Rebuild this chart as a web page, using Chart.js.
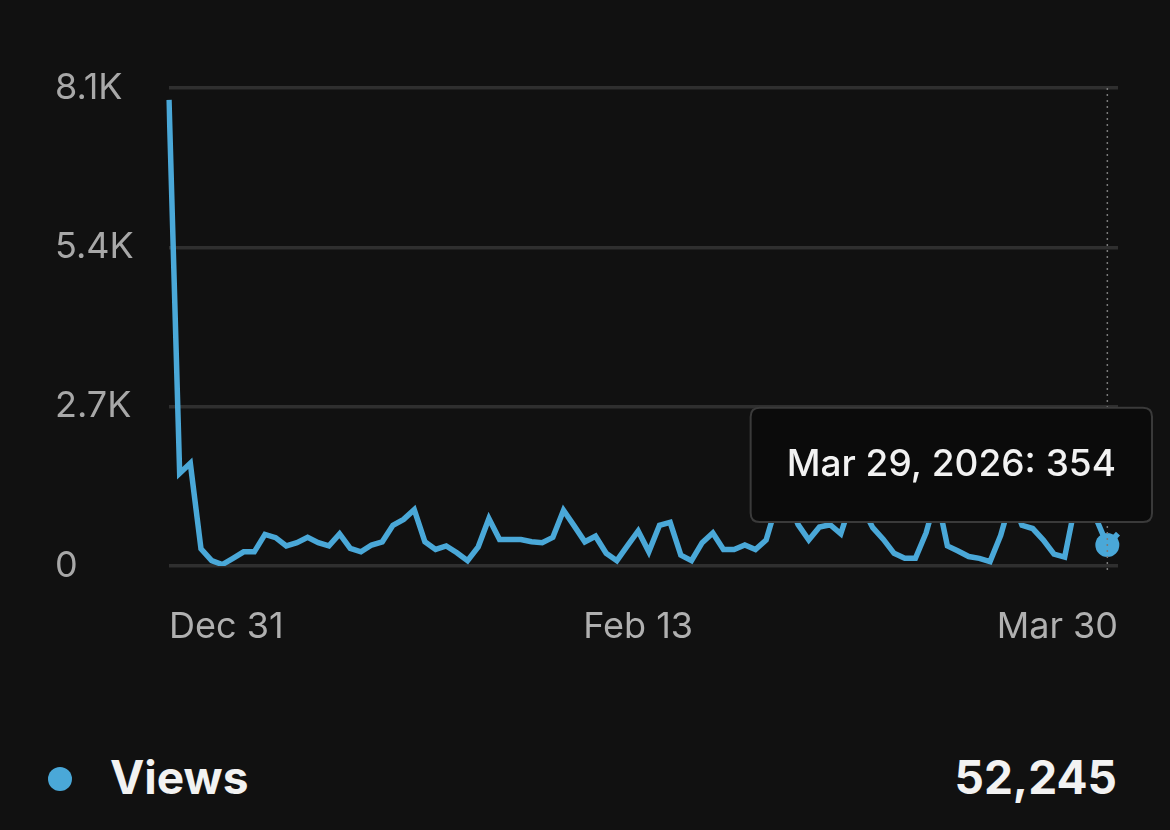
<!DOCTYPE html>
<html>
<head>
<meta charset="utf-8">
<script src="https://cdn.jsdelivr.net/npm/chart.js@4.4.1/dist/chart.umd.min.js"></script>
<style>
  html, body { margin: 0; padding: 0; background: #111111; }
  body { width: 1170px; height: 830px; position: relative; overflow: hidden; font-family: Inter, "Noto Sans", sans-serif; }
  #wrap { position: absolute; left: 0; top: 0; width: 1170px; height: 680px; }
  .legend-dot { position: absolute; left: 48px; top: 767px; width: 24px; height: 24px; border-radius: 50%; background: #4aa8d8; }
  .legend-name, .legend-total { position: absolute; top: 754px; font-size: 46px; line-height: 46px; font-weight: 700; color: #f2f2f2; }
  .legend-name { left: 110px; }
  .legend-total { right: 53px; }
</style>
</head>
<body>
<div id="wrap"><canvas id="myChart" width="1170" height="680"></canvas></div>
<div class="legend-dot"></div>
<div class="legend-name" id="seriesName"></div>
<div class="legend-total" id="seriesTotal"></div>
<script>
// daily views, Dec 31 2025 -> Mar 30 2026
const views = [
  7900, 1570, 1740, 290, 90, 25, 130, 240, 240, 535,
  480, 340, 395, 485, 395, 340, 545, 300, 240, 355,
  410, 690, 790, 955, 410, 280, 340, 225, 90, 325,
  805, 450, 450, 450, 410, 395, 485, 945, 680, 410,
  505, 215, 90, 345, 595, 240, 690, 740, 185, 90,
  395, 560, 280, 280, 355, 280, 440, 1050, 1150, 700,
  440, 660, 700, 545, 1100, 1000, 650, 450, 215, 130,
  130, 560, 1200, 340, 255, 160, 130, 75, 520, 1150,
  690, 635, 440, 200, 150, 1050, 1140, 780, 354, 550
];
const seriesName = 'Views';
const totalViews = 52245;
const yTicks = [0, 2700, 5400, 8100];
const tickIndexes = [0, 44, 89];
const activeIndex = 88;

const lineColor = '#4aa8d8';

// one label per day
const start = Date.UTC(2025, 11, 31);
const days = views.map((v, i) => new Date(start + i * 86400000));
const axisLabels = days.map(d => d.toLocaleDateString('en-US', {month: 'short', day: 'numeric', timeZone: 'UTC'}));
const fullLabels = days.map(d => d.toLocaleDateString('en-US', {month: 'short', day: 'numeric', year: 'numeric', timeZone: 'UTC'}));

document.getElementById('seriesName').textContent = seriesName;
document.getElementById('seriesTotal').textContent = totalViews.toLocaleString('en-US');

// tooltip sits up-left of the hovered point
Chart.Tooltip.positioners.upLeft = function(items) {
  if (!items.length) return false;
  const el = items[0].element;
  return {x: el.x - 156, y: el.y - 23, xAlign: 'center', yAlign: 'bottom'};
};

// dotted vertical line at the active point
const hoverLine = {
  id: 'hoverLine',
  afterDatasetsDraw(chart) {
    const act = chart.getActiveElements();
    if (!act.length) return;
    const x = act[0].element.x;
    const ctx = chart.ctx;
    ctx.save();
    ctx.strokeStyle = '#7a7a7a';
    ctx.lineWidth = 1.5;
    ctx.setLineDash([2, 4]);
    ctx.beginPath();
    ctx.moveTo(x, chart.chartArea.top);
    ctx.lineTo(x, chart.chartArea.bottom + 4);
    ctx.stroke();
    ctx.restore();
  }
};

const config = {
  type: 'line',
  data: {
    labels: axisLabels,
    datasets: [{
      label: seriesName,
      data: views,
      borderColor: lineColor,
      backgroundColor: lineColor,
      borderWidth: 5.5,
      tension: 0,
      pointRadius: 0,
      pointHoverRadius: 12,
      pointHoverBorderWidth: 0,
      pointHoverBackgroundColor: lineColor
    }]
  },
  options: {
    responsive: false,
    animation: false,
    events: [],
    layout: { padding: { top: 88, left: 55, right: 52, bottom: 0 } },
    scales: {
      x: {
        grid: { display: false },
        border: { display: false },
        afterFit: (scale) => { scale.height = 114; },
        ticks: {
          autoSkip: false,
          maxRotation: 0,
          align: 'inner',
          padding: 32,
          color: '#b0b0b0',
          font: { family: 'Inter', size: 36 },
          callback: (val, i) => tickIndexes.includes(i) ? axisLabels[i] : ''
        }
      },
      y: {
        min: 0,
        max: 8100,
        afterFit: (scale) => { scale.width = 114; },
        afterBuildTicks: (scale) => { scale.ticks = yTicks.map(v => ({value: v})); },
        grid: { color: '#2f2f2f', lineWidth: 3.5, drawTicks: false },
        border: { display: false },
        ticks: {
          crossAlign: 'far',
          padding: 0,
          color: '#a8a8a8',
          font: { family: 'Inter', size: 36 },
          callback: (v) => v === 0 ? '0' : (v / 1000).toFixed(1) + 'K'
        }
      }
    },
    plugins: {
      legend: { display: false },
      tooltip: {
        enabled: true,
        position: 'upLeft',
        backgroundColor: '#0b0b0b',
        borderColor: '#3a3a3a',
        borderWidth: 2,
        cornerRadius: 9,
        caretSize: 0,
        caretPadding: 0,
        displayColors: false,
        padding: { left: 36, right: 36, top: 35, bottom: 35 },
        bodyColor: '#f2f2f2',
        bodyFont: { family: 'Inter', size: 37, weight: '500' },
        callbacks: {
          title: () => '',
          label: (ctx) => fullLabels[ctx.dataIndex] + ': ' + ctx.parsed.y.toLocaleString('en-US')
        }
      }
    }
  },
  plugins: [hoverLine]
};

const myChart = new Chart(document.getElementById('myChart').getContext('2d'), config);

const active = [{datasetIndex: 0, index: activeIndex}];
myChart.setActiveElements(active);
const pt = myChart.getDatasetMeta(0).data[activeIndex];
myChart.tooltip.setActiveElements(active, {x: pt.x, y: pt.y});
myChart.update();
</script>
</body>
</html>
